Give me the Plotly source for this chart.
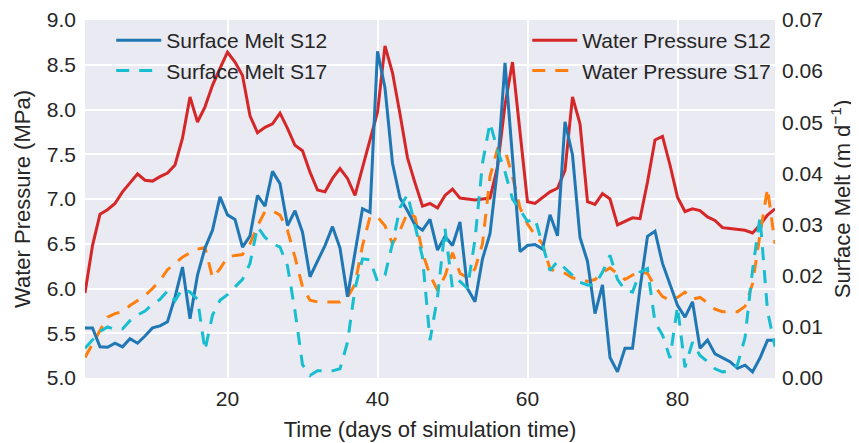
import plotly.graph_objects as go

days = list(range(1, 94))

pressure_s12 = [5.95, 6.48, 6.83, 6.88, 6.95, 7.08, 7.18, 7.28, 7.21, 7.20,
                7.25, 7.29, 7.38, 7.68, 8.14, 7.86, 8.03, 8.27, 8.46, 8.64,
                8.53, 8.38, 7.93, 7.74, 7.80, 7.84, 7.96, 7.79, 7.60, 7.54,
                7.30, 7.10, 7.08, 7.23, 7.34, 7.23, 7.04, 7.35, 7.64, 7.97,
                8.71, 8.41, 7.95, 7.46, 7.18, 6.92, 6.95, 6.90, 7.04, 7.11,
                7.01, 7.00, 6.99, 7.00, 7.01, 7.36, 8.05, 8.53, 7.76, 6.97,
                6.95, 7.01, 7.08, 7.12, 7.32, 8.14, 7.84, 6.97, 6.94, 7.06,
                7.00, 6.71, 6.75, 6.79, 6.78, 7.19, 7.66, 7.70, 7.38, 7.02,
                6.86, 6.89, 6.87, 6.80, 6.76, 6.68, 6.67, 6.66, 6.65, 6.62,
                6.71, 6.82, 6.89]

pressure_s17 = [5.23, 5.38, 5.53, 5.68, 5.72, 5.74, 5.81, 5.87, 5.92, 6.00,
                6.09, 6.21, 6.28, 6.35, 6.40, 6.44, 6.46, 6.12, 6.22, 6.35,
                6.37, 6.38, 6.50, 6.70, 6.86, 6.87, 6.82, 6.65, 6.35, 6.02,
                5.87, 5.85, 5.85, 5.85, 5.85, 5.90, 6.05, 6.48, 6.80, 6.80,
                6.70, 6.50, 6.65, 6.85, 6.80, 6.40, 6.15, 5.98, 6.14, 6.40,
                6.17, 6.12, 6.22, 6.50, 7.25, 7.56, 7.55, 7.25, 6.90, 6.72,
                6.60, 6.50, 6.22, 6.18, 6.17, 6.12, 6.10, 6.08, 6.10, 6.18,
                6.23, 6.16, 6.10, 6.15, 6.18, 6.17, 6.02, 5.91, 5.87, 5.90,
                5.96, 5.88, 5.90, 5.84, 5.77, 5.74, 5.74, 5.74, 5.80, 6.05,
                6.60, 7.12, 6.50]

melt_s12 = [0.0098, 0.0098, 0.0061, 0.0060, 0.0068, 0.0061, 0.0077, 0.0068, 0.0082, 0.0098,
            0.0102, 0.0110, 0.0158, 0.0217, 0.0116, 0.0201, 0.0254, 0.0289, 0.0354, 0.0319,
            0.0310, 0.0256, 0.0278, 0.0357, 0.0336, 0.0404, 0.0380, 0.0298, 0.0327, 0.0285,
            0.0198, 0.0228, 0.0259, 0.0296, 0.0254, 0.0159, 0.0245, 0.0331, 0.0324, 0.0639,
            0.0567, 0.0420, 0.0352, 0.0327, 0.0299, 0.0289, 0.0310, 0.0250, 0.0277, 0.0259,
            0.0305, 0.0175, 0.0149, 0.0233, 0.0282, 0.0410, 0.0616, 0.0432, 0.0247, 0.0259,
            0.0261, 0.0252, 0.0319, 0.0278, 0.0501, 0.0436, 0.0275, 0.0228, 0.0126, 0.0182,
            0.0040, 0.0012, 0.0058, 0.0058, 0.0175, 0.0277, 0.0287, 0.0224, 0.0182, 0.0142,
            0.0119, 0.0149, 0.0058, 0.0074, 0.0047, 0.0039, 0.0032, 0.0019, 0.0025, 0.0012,
            0.0039, 0.0074, 0.0074]

melt_s17 = [0.0058, 0.0074, 0.0091, 0.0100, 0.0095, 0.0096, 0.0112, 0.0123, 0.0131, 0.0144,
            0.0154, 0.0170, 0.0151, 0.0175, 0.0168, 0.0154, 0.0054, 0.0123, 0.0152, 0.0163,
            0.0179, 0.0193, 0.0224, 0.0296, 0.0275, 0.0263, 0.0256, 0.0219, 0.0131, 0.0026,
            0.0005, 0.0014, 0.0014, 0.0014, 0.0018, 0.0070, 0.0175, 0.0233, 0.0231, 0.0189,
            0.0201, 0.0263, 0.0333, 0.0359, 0.0298, 0.0236, 0.0074, 0.0158, 0.0292, 0.0175,
            0.0189, 0.0175, 0.0271, 0.0420, 0.0499, 0.0446, 0.0403, 0.0350, 0.0329, 0.0306,
            0.0312, 0.0259, 0.0210, 0.0228, 0.0214, 0.0201, 0.0187, 0.0182, 0.0182, 0.0207,
            0.0240, 0.0193, 0.0172, 0.0168, 0.0207, 0.0214, 0.0109, 0.0084, 0.0039, 0.0140,
            0.0021, 0.0070, 0.0044, 0.0032, 0.0018, 0.0012, 0.0014, 0.0026, 0.0079, 0.0210,
            0.0315, 0.0131, 0.0061]

left_ticks = [5.0, 5.5, 6.0, 6.5, 7.0, 7.5, 8.0, 8.5, 9.0]
right_ticks = [0.00, 0.01, 0.02, 0.03, 0.04, 0.05, 0.06, 0.07]
x_ticks = [20, 40, 60, 80]

FONT = "Liberation Sans, Arial, sans-serif"
TXT = "#262626"
DASH = "13px,10px"

fig = go.Figure()
fig.add_trace(go.Scatter(x=days, y=pressure_s12, name="Water Pressure S12", mode="lines",
                         line=dict(color="#d62728", width=3), yaxis="y", legend="legend2"))
fig.add_trace(go.Scatter(x=days, y=pressure_s17, name="Water Pressure S17", mode="lines",
                         line=dict(color="#ff7f0e", width=3, dash=DASH), yaxis="y", legend="legend2"))
fig.add_trace(go.Scatter(x=days, y=melt_s12, name="Surface Melt S12", mode="lines",
                         line=dict(color="#1f77b4", width=3), yaxis="y2", legend="legend"))
fig.add_trace(go.Scatter(x=days, y=melt_s17, name="Surface Melt S17", mode="lines",
                         line=dict(color="#17becf", width=3, dash=DASH), yaxis="y2", legend="legend"))

# the page body adds an 8px offset, so the figure is sized to end at the window edge
fig.update_layout(
    width=851, height=435,
    margin=dict(l=77, r=84, t=12, b=65),
    paper_bgcolor="white",
    plot_bgcolor="#EAEAF2",
    font=dict(family=FONT, size=21, color=TXT),
    xaxis=dict(range=[1, 93], tickvals=x_ticks, showgrid=True, gridcolor="white", gridwidth=1.6,
               zeroline=False, showline=False, ticks="", automargin=False,
               ticklabelstandoff=6, tickfont=dict(size=21),
               title=dict(text="Time (days of simulation time)", font=dict(size=22), standoff=12)),
    yaxis=dict(range=[5.0, 9.0], tickvals=left_ticks, tickformat=".1f", showgrid=True,
               gridcolor="white", gridwidth=1.6, zeroline=False, showline=False, ticks="",
               automargin=False, ticklabelstandoff=8, tickfont=dict(size=21),
               title=dict(text="Water Pressure (MPa)", font=dict(size=22), standoff=10)),
    yaxis2=dict(range=[0.0, 0.07], tickvals=right_ticks, tickformat=".2f", overlaying="y",
                side="right", showgrid=False, zeroline=False, showline=False, ticks="",
                automargin=False, ticklabelstandoff=6, tickfont=dict(size=21),
                title=dict(text="Surface Melt (m d<sup>\u22121</sup>)", font=dict(size=22), standoff=12)),
    legend=dict(x=0.038, y=1.0, xanchor="left", yanchor="top", bgcolor="rgba(0,0,0,0)",
                font=dict(size=21, color=TXT), itemwidth=45, tracegroupgap=0),
    legend2=dict(x=0.641, y=1.0, xanchor="left", yanchor="top", bgcolor="rgba(0,0,0,0)",
                 font=dict(size=21, color=TXT), itemwidth=45, tracegroupgap=0),
)

fig.write_html("out.html")
